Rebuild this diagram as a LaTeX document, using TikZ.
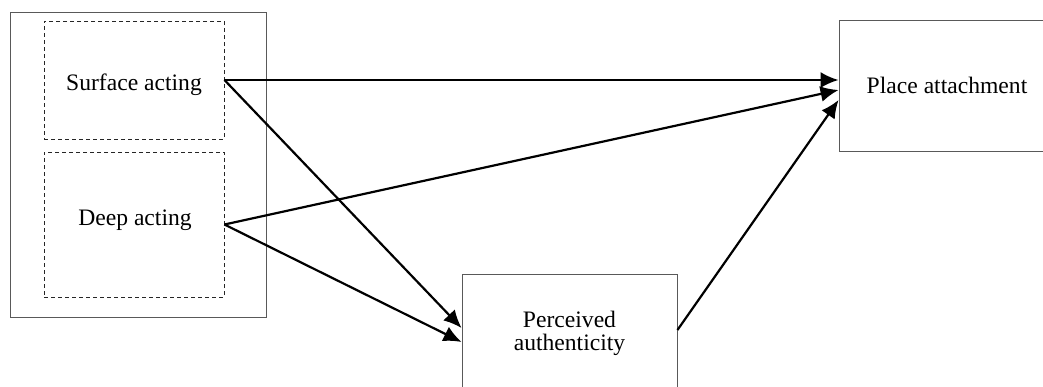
\documentclass[tikz,border=0pt]{standalone}
\usepackage{fontspec}
\setmainfont{Liberation Serif}
\usetikzlibrary{arrows.meta,calc}
\begin{document}
\begin{tikzpicture}[x=1pt,y=-1pt,
  box/.style={draw=black!65, line width=0.9pt, rectangle, inner sep=0pt},
  dbox/.style={draw=black!85, line width=0.9pt, dash pattern=on 4pt off 3pt, rectangle, inner sep=0pt},
  lbl/.style={font=\fontsize{23.6}{22.5}\selectfont, anchor=base, inner sep=0pt, align=center},
  conn/.style={line width=2.2pt, -{Latex[length=18pt,width=16pt]}}
]
\useasboundingbox (0,0) rectangle (1043,386);
\clip (0,0) rectangle (1043,386);
\fill[white] (0,0) rectangle (1043,386);
\node[box, minimum width=256pt, minimum height=305pt] (outer) at (138,164.5) {};
\node[dbox, minimum width=180pt, minimum height=118pt] (surf) at (134,80) {};
\node[dbox, minimum width=180pt, minimum height=145pt] (deep) at (134,224.5) {};
\node[box, minimum width=230pt, minimum height=131pt] (place) at (954,85.5) {};
\node[box, minimum width=215pt, minimum height=146pt] (perc) at (569.5,347) {};
\node[lbl] (surft) at (134,90) {Surface acting};
\node[lbl] (deept) at (135,225) {Deep acting};
\node[lbl] (placet) at (947,93) {Place attachment};
\node[lbl, anchor=center] (perct) at (569.5,333.5) {Perceived\\authenticity};
\draw[conn] (surf.east) -- (place.west |- surf.east);
\draw[conn] (surf.east) -- ($(perc.west)+(0,-19)$);
\draw[conn] (deep.east) -- ($(place.west)+(0,4.5)$);
\draw[conn] (deep.east) -- ($(perc.west)+(0,-5)$);
\draw[conn] ($(perc.east)+(0,-17)$) -- ($(place.west)+(0,14.5)$);
\end{tikzpicture}
\end{document}
